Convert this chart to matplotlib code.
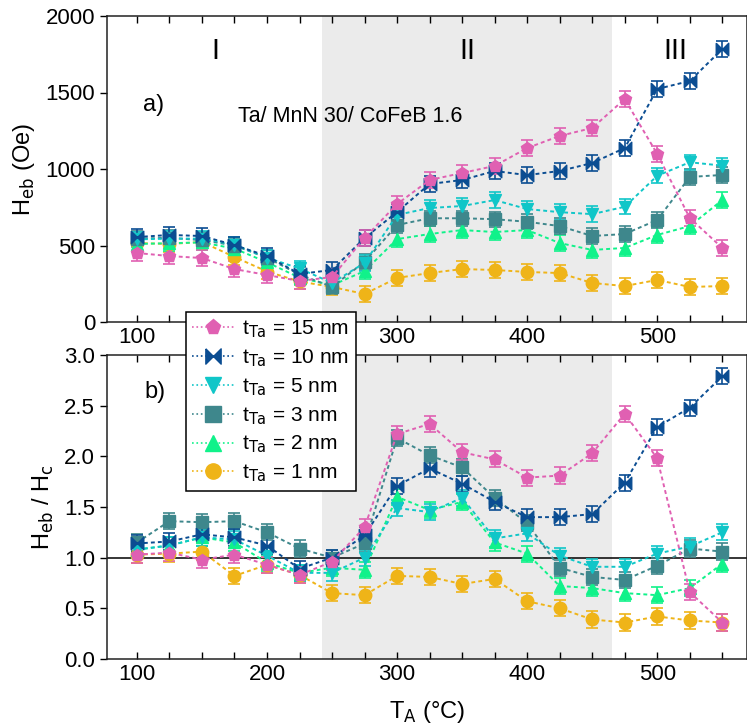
import matplotlib.pyplot as plt
from matplotlib.lines import Line2D

plt.rcParams['font.family'] = ['Liberation Sans', 'DejaVu Sans']

temps = [100, 125, 150, 175, 200, 225, 250, 275, 300, 325,
         350, 375, 400, 425, 450, 475, 500, 525, 550]

labels = ['15 nm', '10 nm', '5 nm', '3 nm', '2 nm', '1 nm']

# exchange bias field (Oe)
heb_15 = [451, 431, 418, 346, 307, 268, 294, 549, 771, 928,
          974, 1020, 1137, 1216, 1268, 1457, 1098, 680, 484]
heb_10 = [555, 569, 562, 503, 431, 314, 340, 549, 719, 902,
          928, 987, 960, 987, 1039, 1137, 1523, 1575, 1784]
heb_5 = [540, 545, 545, 505, 420, 350, 255, 386, 700, 745,
         758, 797, 738, 718, 705, 753, 956, 1044, 1022]
heb_3 = [545, 550, 535, 500, 420, 310, 230, 393, 634, 678,
         678, 672, 655, 627, 562, 575, 667, 948, 961]
heb_2 = [510, 515, 520, 480, 390, 290, 240, 333, 542, 575,
         601, 588, 601, 516, 471, 484, 569, 627, 797]
heb_1 = [516, 510, 523, 425, 330, 265, 229, 183, 288, 320,
         346, 340, 327, 320, 255, 235, 275, 229, 235]

# ratio Heb / Hc
ratio_15 = [1.03, 1.05, 0.98, 1.03, 0.93, 0.83, 0.96, 1.30, 2.22, 2.32,
            2.04, 1.97, 1.79, 1.81, 2.03, 2.42, 1.98, 0.66, 0.36]
ratio_10 = [1.14, 1.16, 1.23, 1.20, 1.12, 0.89, 1.00, 1.22, 1.71, 1.88,
            1.73, 1.55, 1.40, 1.40, 1.43, 1.74, 2.29, 2.48, 2.79]
ratio_5 = [1.08, 1.12, 1.20, 1.18, 1.02, 0.85, 0.85, 1.00, 1.49, 1.45,
           1.59, 1.19, 1.24, 1.02, 0.91, 0.91, 1.04, 1.11, 1.25]
ratio_3 = [1.15, 1.36, 1.35, 1.36, 1.25, 1.09, 1.00, 1.14, 2.18, 2.01,
           1.89, 1.59, 1.34, 0.90, 0.81, 0.78, 0.92, 1.09, 1.06]
ratio_2 = [1.08, 1.12, 1.20, 1.15, 0.95, 0.85, 0.90, 0.88, 1.60, 1.47,
           1.55, 1.15, 1.04, 0.72, 0.70, 0.65, 0.63, 0.70, 0.94]
ratio_1 = [1.03, 1.04, 1.06, 0.82, 0.93, 0.83, 0.65, 0.63, 0.82, 0.81,
           0.74, 0.79, 0.57, 0.50, 0.39, 0.36, 0.42, 0.38, 0.36]

heb_err = 50
ratio_err = 0.08

heb_all = [heb_15, heb_10, heb_5, heb_3, heb_2, heb_1]
ratio_all = [ratio_15, ratio_10, ratio_5, ratio_3, ratio_2, ratio_1]

bowtie = [(-1, 1), (-1, -1), (1, 1), (1, -1), (-1, 1)]
colors = ['#e060b2', '#0b4d92', '#10c6c8', '#3e878c', '#10f28a', '#efb418']
markers = ['p', bowtie, 'v', 's', '^', 'o']

fig = plt.figure(figsize=(7.47, 7.27), dpi=100)
ax1 = fig.add_axes([107 / 747, 1 - 322 / 727, 640 / 747, 306 / 727])
ax2 = fig.add_axes([107 / 747, 1 - 659 / 727, 640 / 747, 304 / 727])

for ax, data, err in [(ax1, heb_all, heb_err), (ax2, ratio_all, ratio_err)]:
    ax.axvspan(242, 465, color='#ebebeb', lw=0, zorder=0)
    # draw thinnest Ta first so 15 nm ends on top
    for i in reversed(range(6)):
        ax.errorbar(temps, data[i], yerr=err, color=colors[i], marker=markers[i],
                    ms=9, ls=(0, (2, 1.6)), lw=1.4, capsize=4, elinewidth=1.2,
                    capthick=1.2, zorder=3)
    ax.set_xlim(77, 569)
    ax.set_xticks([100, 200, 300, 400, 500])
    ax.set_xticks(range(125, 551, 25), minor=True)
    ax.tick_params(axis='x', which='both', direction='in', top=True,
                   length=5, width=1, labelsize=16)
    ax.tick_params(axis='y', direction='out', length=5, width=1, labelsize=16)
    for sp in ax.spines.values():
        sp.set_linewidth(1.1)
        sp.set_color('#222222')

ax1.set_ylim(0, 2000)
ax1.set_yticks([0, 500, 1000, 1500, 2000])
ax1.set_ylabel(r'H$_{\mathrm{eb}}$ (Oe)', fontsize=17, labelpad=6)
ax1.text(160, 1770, 'I', fontsize=21, ha='center', va='center')
ax1.text(354, 1770, 'II', fontsize=21, ha='center', va='center')
ax1.text(514, 1770, 'III', fontsize=21, ha='center', va='center')
ax1.text(113, 1420, 'a)', fontsize=17, ha='center', va='center')
ax1.text(178, 1346, 'Ta/ MnN 30/ CoFeB 1.6', fontsize=15.5, ha='left', va='center')

ax2.axhline(1.0, color='black', lw=1.1, zorder=2)
ax2.set_ylim(0, 3.0)
ax2.set_yticks([0, 0.5, 1.0, 1.5, 2.0, 2.5, 3.0])
ax2.set_yticklabels(['0.0', '0.5', '1.0', '1.5', '2.0', '2.5', '3.0'])
ax2.set_ylabel(r'H$_{\mathrm{eb}}$ / H$_{\mathrm{c}}$', fontsize=17, labelpad=6)
ax2.set_xlabel(r'T$_{\mathrm{A}}$ (°C)', fontsize=17, labelpad=10)
ax2.text(114, 2.63, 'b)', fontsize=17, ha='center', va='center')

handles = [Line2D([], [], color=colors[i], marker=markers[i], ms=11,
                  ls=':', lw=1.2) for i in range(6)]
leg_labels = [r't$_{\mathrm{Ta}}$ = ' + lab for lab in labels]
leg = fig.legend(handles, leg_labels, loc='upper left',
                 bbox_to_anchor=(186 / 747, 1 - 312 / 727), borderaxespad=0,
                 fontsize=15, fancybox=False, framealpha=1, edgecolor='black',
                 handlelength=2.0, handletextpad=0.4, labelspacing=0.35,
                 borderpad=0.3)
leg.get_frame().set_linewidth(1.1)
leg.set_zorder(10)

fig.savefig('out.png', dpi=100)
